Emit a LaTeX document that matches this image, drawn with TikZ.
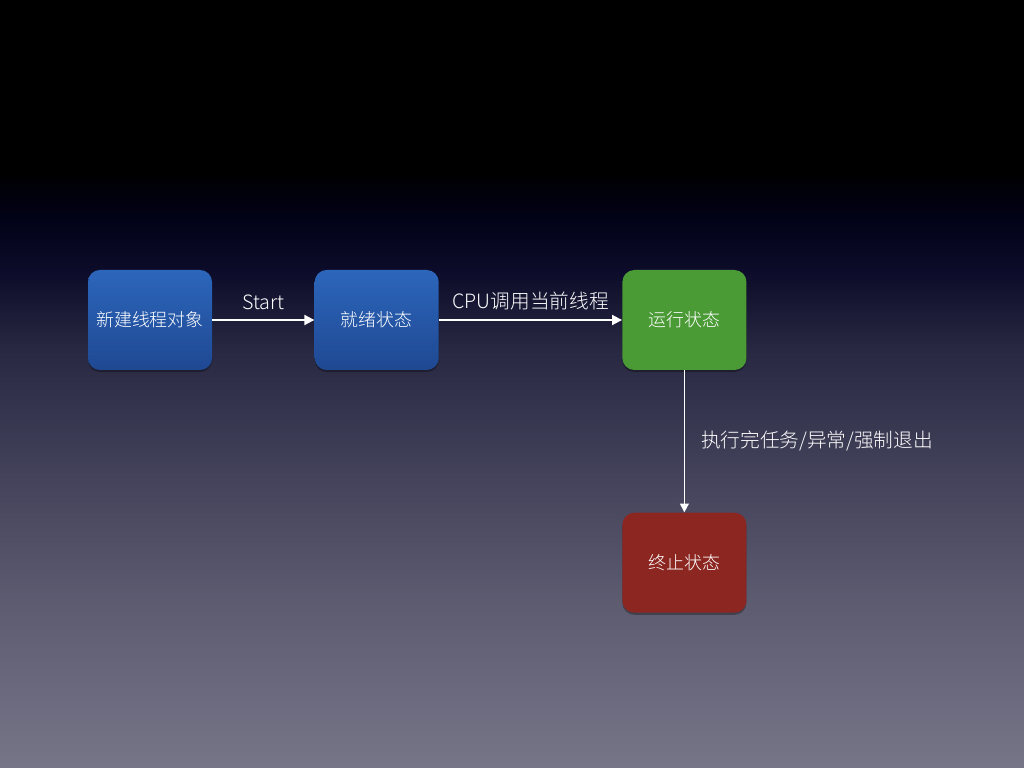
\documentclass[tikz,border=0pt]{standalone}
\usepackage{fontspec}
\setmainfont{Noto Sans CJK SC}[UprightFont={* Light}]
\usetikzlibrary{positioning,arrows.meta,shadows}
\definecolor{bga}{RGB}{0,0,0}
\definecolor{bgb}{RGB}{2,2,24}
\definecolor{bgc}{RGB}{12,12,42}
\definecolor{bgd}{RGB}{40,40,66}
\definecolor{bge}{RGB}{62,61,86}
\definecolor{bgf}{RGB}{92,91,112}
\definecolor{bgg}{RGB}{118,117,136}
\definecolor{bluetop}{RGB}{44,102,187}
\definecolor{bluebot}{RGB}{31,72,146}
\definecolor{rungreen}{RGB}{74,154,54}
\definecolor{endred}{RGB}{140,38,33}
\pgfdeclareverticalshading{slidebg}{100bp}{color(0bp)=(bgg); color(25bp)=(bgg);
  color(35.9bp)=(bgf); color(45.7bp)=(bge); color(52.2bp)=(bgd);
  color(57.4bp)=(bgc); color(60.7bp)=(bgb); color(63.9bp)=(bga); color(100bp)=(bga)}
\tikzset{
  state/.style={rectangle, rounded corners=6.8pt, minimum width=2.48cm, minimum height=2cm, text centered, text=white, draw=none,
    drop shadow={fill=black, opacity=0.3, shadow xshift=0pt, shadow yshift=-1.2pt}},
  blk/.style={state, top color=bluetop, bottom color=bluebot},
  grn/.style={state, fill=rungreen},
  rd/.style={state, fill=endred},
  go/.style={draw=white, line width=1.1pt, -{Triangle[length=5.7pt, width=5.7pt]}},
  gothin/.style={draw=white, line width=0.85pt, -{Triangle[length=5pt, width=5pt]}},
  lbl/.style={text=white, font=\fontsize{11.2pt}{13pt}\selectfont}
}

\begin{document}
\begin{tikzpicture}[every node/.style={font=\fontsize{10.2pt}{12pt}\selectfont}]
	\shade[shading=slidebg] (0,0) rectangle (20.48,-15.36);
	\node[blk] (new) at (3,-6.4) {新建线程对象};
	\node[blk, right=2.04cm of new] (ready) {就绪状态};
	\node[grn, right=3.66cm of ready] (run) {运行状态};
	\node[rd, below=2.84cm of run] (dead) {终止状态};
	%
	\draw[go] (new) -- node[above=2pt, lbl] {Start} (ready);
	\draw[go] (ready) -- node[above=2pt, lbl] {CPU调用当前线程} (run);
	\draw[gothin] (run) -- node[right=0.2cm, lbl] {执行完任务/异常/强制退出} (dead);
\end{tikzpicture}
\end{document}
